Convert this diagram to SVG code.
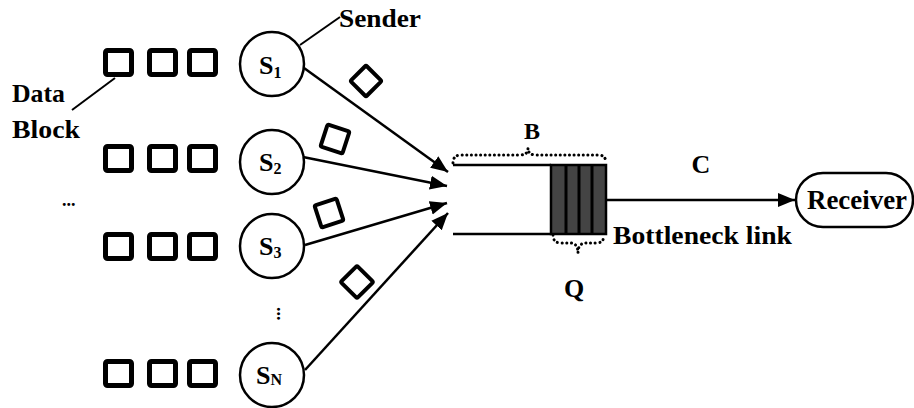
<svg xmlns="http://www.w3.org/2000/svg" width="914" height="408" viewBox="0 0 914 408">
<defs>
<style>
.blk{fill:#fff;stroke:#000;stroke-width:5;}
.node{fill:#fff;stroke:#000;stroke-width:2.5;}
.ln{fill:none;stroke:#000;stroke-width:2.5;}
.thin{fill:none;stroke:#000;stroke-width:2;}
.pkt{fill:#fff;stroke:#000;stroke-width:4;}
.dot{fill:none;stroke:#000;stroke-width:3;stroke-dasharray:0.1 4.5;stroke-linecap:round;}
.t{font-family:"Liberation Serif","Times New Roman",serif;font-weight:bold;fill:#000;}
</style>
<marker id="ah" markerUnits="userSpaceOnUse" markerWidth="18" markerHeight="16" viewBox="0 0 18 16" refX="17" refY="8" orient="auto">
<path d="M0,1 L17,8 L0,15 Z" fill="#000"/>
</marker>
</defs>
<rect width="914" height="408" fill="#fff"/>

<g id="data-blocks">
<rect class="blk" x="105.5" y="50.5" width="26" height="24" rx="2"/>
<rect class="blk" x="149.5" y="50.5" width="26" height="24" rx="2"/>
<rect class="blk" x="189.5" y="50.5" width="26" height="24" rx="2"/>
<rect class="blk" x="105.5" y="146.5" width="26" height="24" rx="2"/>
<rect class="blk" x="149.5" y="146.5" width="26" height="24" rx="2"/>
<rect class="blk" x="189.5" y="146.5" width="26" height="24" rx="2"/>
<rect class="blk" x="105.5" y="234.5" width="26" height="24" rx="2"/>
<rect class="blk" x="149.5" y="234.5" width="26" height="24" rx="2"/>
<rect class="blk" x="189.5" y="234.5" width="26" height="24" rx="2"/>
<rect class="blk" x="105.5" y="361.5" width="26" height="24" rx="2"/>
<rect class="blk" x="149.5" y="361.5" width="26" height="24" rx="2"/>
<rect class="blk" x="189.5" y="361.5" width="26" height="24" rx="2"/>
</g>

<g id="labels">
<text class="t" x="12" y="102" font-size="25" textLength="53" lengthAdjust="spacingAndGlyphs">Data</text>
<text class="t" x="12" y="138" font-size="25" textLength="68" lengthAdjust="spacingAndGlyphs">Block</text>
<text class="t" x="62" y="206" font-size="18">...</text>
<text class="t" x="339" y="27" font-size="26" textLength="82" lengthAdjust="spacingAndGlyphs">Sender</text>
<text class="t" x="264" y="310" font-size="18" transform="rotate(90 272 315)">...</text>
</g>

<g id="s1">
<circle class="node" cx="272" cy="64" r="32"/>
<text class="t" x="259" y="74" font-size="26">S<tspan font-size="16" dy="4">1</tspan></text>
</g>
<g id="s2">
<circle class="node" cx="272" cy="162" r="32"/>
<text class="t" x="259" y="171" font-size="26">S<tspan font-size="16" dy="3">2</tspan></text>
</g>
<g id="s3">
<circle class="node" cx="272" cy="246" r="32"/>
<text class="t" x="259" y="255" font-size="26">S<tspan font-size="16" dy="3">3</tspan></text>
</g>
<g id="sn">
<circle class="node" cx="272" cy="375" r="32"/>
<text class="t" x="256" y="384" font-size="26">S<tspan font-size="16" dy="1">N</tspan></text>
</g>

<g id="packets">
<rect class="pkt" x="355" y="70" width="22" height="22" rx="1.5" transform="rotate(45 366 81)"/>
<rect class="pkt" x="323.5" y="127.5" width="23" height="23" rx="1.5" transform="rotate(18 335 139)"/>
<rect class="pkt" x="317.5" y="201.5" width="23" height="23" rx="1.5" transform="rotate(-18 329 213)"/>
<rect class="pkt" x="345.5" y="270.5" width="23" height="23" rx="1.5" transform="rotate(45 357 282)"/>
</g>

<g id="bottleneck">
<path class="ln" d="M453,165 H551 M453,234 H551"/>
<rect x="551" y="165" width="55" height="69" fill="#444" stroke="#000" stroke-width="2.5"/>
<path d="M566,165 V234 M579,165 V234 M592,165 V234" stroke="#000" stroke-width="3"/>
<path class="dot" d="M453,163 Q453,155 461,155 L520,155 Q528,155 528,148 Q528,155 536,155 L598,155 Q606,155 606,163"/>
<path class="dot" d="M553,235 Q553,243 561,243 L570,243 Q578,243 578,253 Q578,243 586,243 L596,243 Q604,243 604,235"/>
<text class="t" x="532" y="139" font-size="24" text-anchor="middle">B</text>
<text class="t" x="574" y="297" font-size="26" text-anchor="middle">Q</text>
<text class="t" x="701" y="173" font-size="26" text-anchor="middle">C</text>
<text class="t" x="613" y="244" font-size="26" textLength="179" lengthAdjust="spacingAndGlyphs">Bottleneck link</text>
</g>

<g id="receiver">
<rect class="node" x="796" y="173" width="117" height="54" rx="27"/>
<text class="t" x="807" y="209" font-size="27" textLength="100" lengthAdjust="spacingAndGlyphs">Receiver</text>
</g>

<g id="connectors">
<line class="thin" x1="72" y1="110" x2="115" y2="78"/>
<line class="thin" x1="300" y1="45" x2="340" y2="17"/>
<line class="ln" x1="304" y1="68" x2="448" y2="172" marker-end="url(#ah)"/>
<line class="ln" x1="303" y1="157" x2="447" y2="186" marker-end="url(#ah)"/>
<line class="ln" x1="305" y1="245" x2="447" y2="203" marker-end="url(#ah)"/>
<line class="ln" x1="305" y1="370" x2="448" y2="213" marker-end="url(#ah)"/>
<line class="ln" x1="606" y1="200" x2="795" y2="200" marker-end="url(#ah)"/>
</g>
</svg>
